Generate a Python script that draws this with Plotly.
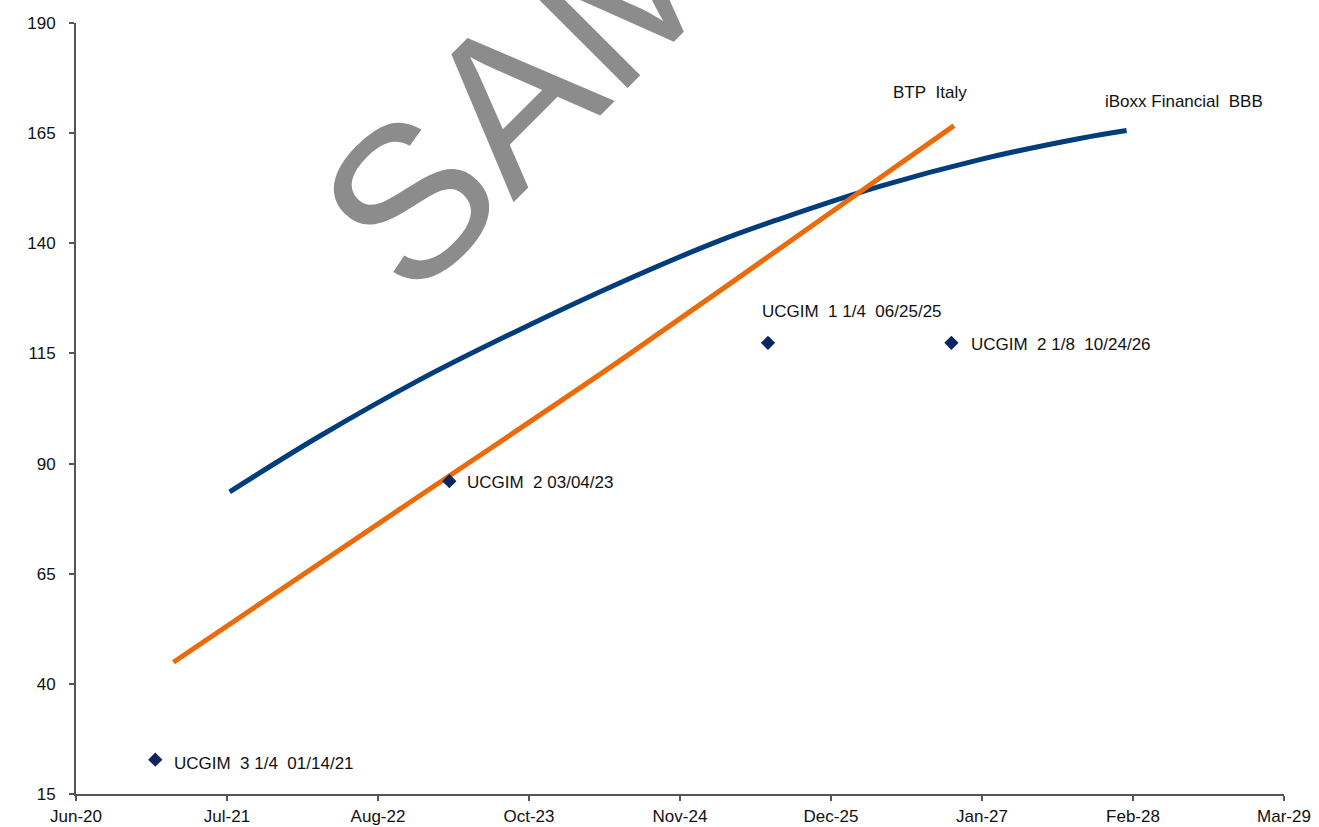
import plotly.graph_objects as go

# ---- data ----
iboxx_dates = ["2021-07-30", "2022-03-25", "2022-12-15", "2023-09-06", "2024-05-28",
               "2025-02-17", "2025-07-26", "2026-04-17", "2027-01-07", "2027-09-29", "2028-01-31"]
iboxx_vals = [83.6, 96.2, 109.0, 120.4, 131.0, 140.6, 145.5, 152.9, 159.0, 163.8, 165.6]

btp_dates = ["2021-03-03", "2022-10-23", "2024-05-28", "2026-03-16", "2026-10-31"]
btp_vals = [44.9, 79.6, 113.3, 152.9, 166.7]

bond_names = ["UCGIM\u00a0 3 1/4\u00a0 01/14/21", "UCGIM\u00a0 2 03/04/23",
              "UCGIM\u00a0 1 1/4\u00a0 06/25/25", "UCGIM\u00a0 2 1/8\u00a0 10/24/26"]
bond_dates = ["2021-01-14", "2023-03-04", "2025-06-25", "2026-10-24"]
bond_vals = [22.8, 86.0, 117.4, 117.4]

x_tickvals = ["2020-06-18", "2021-07-23", "2022-08-27", "2023-10-01", "2024-11-04",
              "2025-12-09", "2027-01-13", "2028-02-17", "2029-03-23"]
x_ticktext = ["Jun-20", "Jul-21", "Aug-22", "Oct-23", "Nov-24", "Dec-25", "Jan-27", "Feb-28", "Mar-29"]
y_tickvals = [15, 40, 65, 90, 115, 140, 165, 190]

BLUE = "#003d7c"
ORANGE = "#eb6a0a"
NAVY = "#0d2561"
FONT = "Arial, Liberation Sans, sans-serif"

fig = go.Figure()
fig.add_trace(go.Scatter(x=iboxx_dates, y=iboxx_vals, mode="lines",
                         line=dict(color=BLUE, width=5, shape="spline", smoothing=1.0),
                         name="iBoxx Financial BBB"))
fig.add_trace(go.Scatter(x=btp_dates, y=btp_vals, mode="lines",
                         line=dict(color=ORANGE, width=5, shape="spline", smoothing=0.8),
                         name="BTP Italy"))
fig.add_trace(go.Scatter(x=bond_dates, y=bond_vals, mode="markers",
                         marker=dict(symbol="diamond", size=11, color=NAVY),
                         name="UCGIM"))

label_font = dict(family=FONT, size=17, color="#111111")

# curve labels
fig.add_annotation(x=btp_dates[-1], y=btp_vals[-1], text="BTP\u00a0 Italy", showarrow=False,
                   xanchor="center", yanchor="middle", xshift=-24, yshift=33, font=label_font)
fig.add_annotation(x=iboxx_dates[-1], y=iboxx_vals[-1], text="iBoxx Financial\u00a0 BBB", showarrow=False,
                   xanchor="center", yanchor="middle", xshift=57, yshift=29, font=label_font)

# bond labels
offsets = [(17, -4), (16, -1), (-8, 31), (18, -2)]
for name, d, v, (dx, dy) in zip(bond_names, bond_dates, bond_vals, offsets):
    fig.add_annotation(x=d, y=v, text=name, showarrow=False, xanchor="left", yanchor="middle",
                       xshift=dx, yshift=dy, font=label_font)

# watermark
fig.add_annotation(xref="paper", yref="paper", x=0.4897, y=1.1054, text="SAMPLE",
                   showarrow=False, xanchor="center", yanchor="middle", textangle=-45,
                   font=dict(family=FONT, size=216, color="#8c8c8c"))

axis_common = dict(showgrid=False, zeroline=False, showline=True, linecolor="#555555",
                   linewidth=2, ticks="outside", ticklen=5, tickcolor="#555555", tickwidth=1.5,
                   automargin=False,
                   tickfont=dict(family=FONT, size=17, color="#111111"))

fig.update_xaxes(type="date", range=[x_tickvals[0], x_tickvals[-1]],
                 tickvals=x_tickvals, ticktext=x_ticktext, ticklabelstandoff=1, **axis_common)
fig.update_yaxes(range=[15, 190], tickvals=y_tickvals, ticklabelstandoff=10, **axis_common)

fig.update_layout(width=1319, height=827, showlegend=False,
                  margin=dict(l=76, r=35, t=23, b=33),
                  plot_bgcolor="white", paper_bgcolor="white")

fig.write_html("out.html")
